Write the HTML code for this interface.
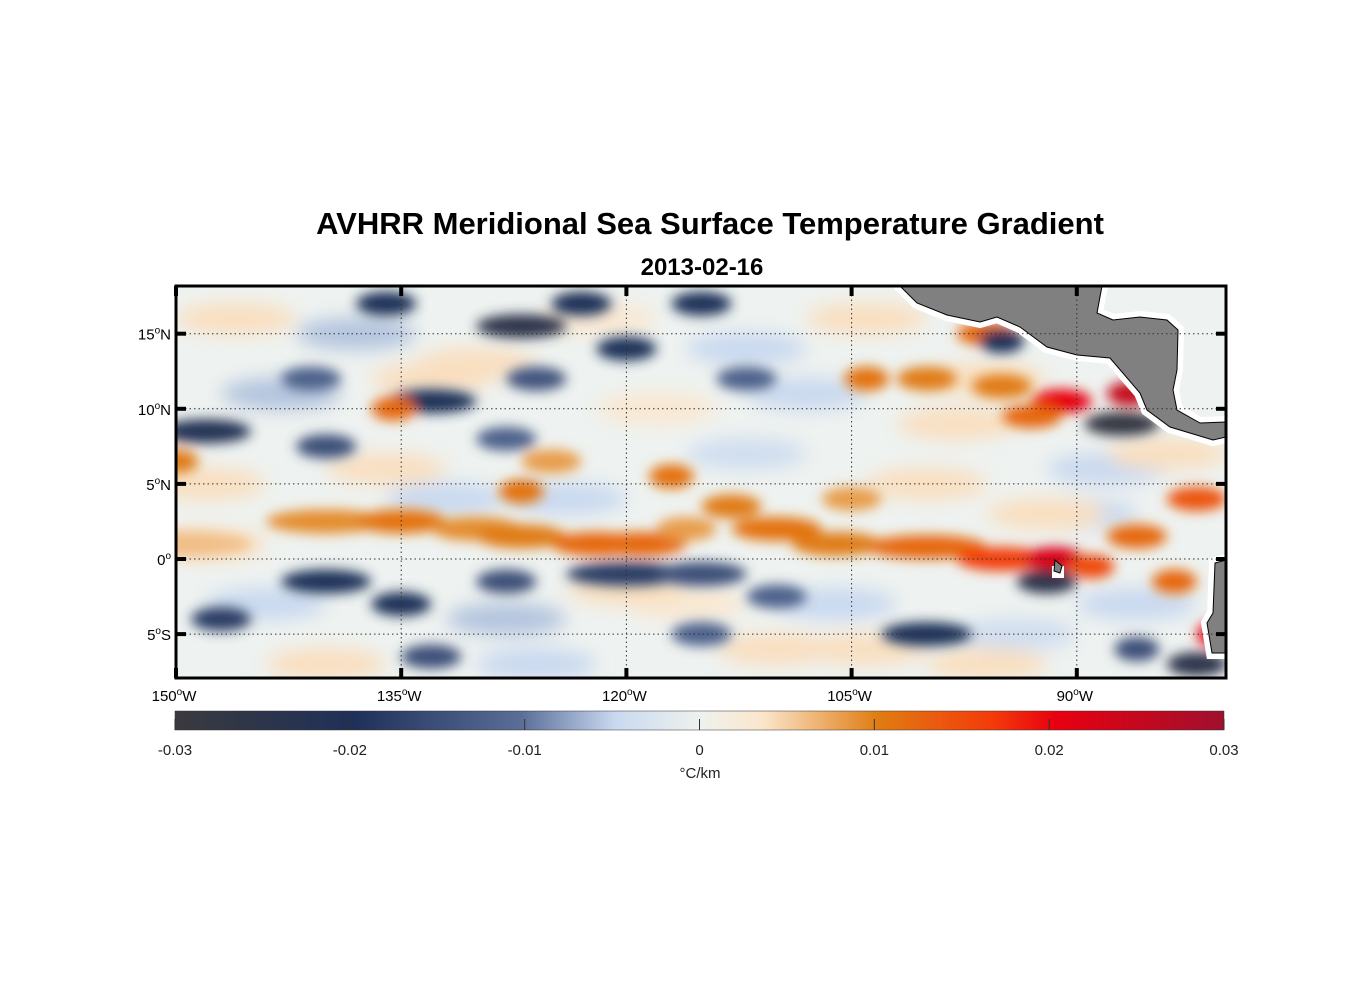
<!DOCTYPE html>
<html><head><meta charset="utf-8"><style>
body{margin:0;background:#fff;}
svg{display:block;font-family:"Liberation Sans",Arial,sans-serif;}
</style></head><body>
<svg id="c" width="1356" height="1000">
<defs>
<filter id="blur" x="-50%" y="-50%" width="200%" height="200%"><feGaussianBlur stdDeviation="6"/></filter>
<filter id="blur2" x="-50%" y="-50%" width="200%" height="200%"><feGaussianBlur stdDeviation="9"/></filter>
<clipPath id="clip"><rect x="176" y="286" width="1050" height="392"/></clipPath>
<linearGradient id="cbar" x1="0" x2="1" y1="0" y2="0">
<stop offset="0" stop-color="#3a3a3e"/><stop offset="0.17" stop-color="#1f3058"/>
<stop offset="0.33" stop-color="#5a6e98"/><stop offset="0.42" stop-color="#c9d9f0"/>
<stop offset="0.5" stop-color="#eef2ee"/><stop offset="0.56" stop-color="#fbe6cc"/>
<stop offset="0.67" stop-color="#e07c12"/><stop offset="0.78" stop-color="#f43a0a"/>
<stop offset="0.84" stop-color="#e80010"/><stop offset="1" stop-color="#a0102e"/>
</linearGradient>
</defs>
<text x="710" y="234" text-anchor="middle" font-size="31" font-weight="bold">AVHRR Meridional Sea Surface Temperature Gradient</text>
<text x="702" y="275" text-anchor="middle" font-size="24" font-weight="bold">2013-02-16</text>
<g clip-path="url(#clip)">
<rect x="176" y="286" width="1050" height="392" fill="#eef2f0"/>
<g id="light" filter="url(#blur2)"></g>
<g id="blobs" filter="url(#blur)"></g>
<g fill="#fff" stroke="#fff" stroke-width="12">
<polygon points="900,286 917,303 947,315 980,322 997,317 1020,327 1047,347 1077,355 1110,358 1140,393 1147,410 1170,427 1213,440 1226,437 1226,422 1200,423 1177,410 1173,390 1177,370 1178,330 1167,320 1140,317 1113,320 1097,313 1102,286"/>
<polygon points="1226,560 1215,563 1213,613 1207,623 1212,653 1226,653"/>
</g>
<polygon fill="#808080" stroke="#000" stroke-width="1" points="900,286 917,303 947,315 980,322 997,317 1020,327 1047,347 1077,355 1110,358 1140,393 1147,410 1170,427 1213,440 1226,437 1226,422 1200,423 1177,410 1173,390 1177,370 1178,330 1167,320 1140,317 1113,320 1097,313 1102,286"/>
<polygon fill="#808080" stroke="#000" stroke-width="1" points="1226,560 1215,563 1213,613 1207,623 1212,653 1226,653"/>
<rect x="1052" y="566" width="12" height="12" fill="#fff"/>
<polygon fill="#808080" stroke="#000" stroke-width="1" points="1055,560 1062,566 1060,573 1054,571"/>
<g id="grid"></g>
</g>
<rect x="176" y="286" width="1050" height="392" fill="none" stroke="#000" stroke-width="3"/>
<g id="axes"></g>
<rect x="175" y="711" width="1049" height="19" fill="url(#cbar)" stroke="#333" stroke-width="0.5"/>
<g id="cb"></g>
<text x="700" y="778" text-anchor="middle" font-size="15" fill="#222">°C/km</text>
</svg>
<script>
const lonTicks=[-150,-135,-120,-105,-90];
const latTicks=[15,10,5,0,-5];
const cbTicks=[-0.03,-0.02,-0.01,0,0.01,0.02,0.03];
const blobLon=[-150,-140,-135,-130,-127,-122,-119,-116,-113,-110,-106,-100,-95,-91.5,-89,-86,-82,-83.5,-81,-91,-86.5,-93,-95,-100,-104,-96,-89,-87,-95,-120,-127,-136,-123,-115,-133,-148,-140,-128,-112,-126,-141,-140,-135,-128,-120,-115,-110,-100,-92,-82,-147,-133,-115,-86,-135.5,-105,-117,-127,-150,-125];
const blobLat=[1,2.5,2.5,2,1.5,1,1,2,3.5,2,1,0.8,0,0,-0.5,1.5,4,-1.5,-5,10.5,11,9.5,11.5,12,12,15,15,9,14.5,14,15.5,17,17,17,10.5,8.5,7.5,8,12,12,12,-1.5,-3,-1.5,-1,-1,-2.5,-5,-1.5,-7,-4,-6.5,-5,-6,10,4,5.5,4.5,6.5,6.5];
const blobVal=[0.006,0.009,0.011,0.009,0.01,0.012,0.012,0.008,0.01,0.011,0.01,0.012,0.016,0.022,0.015,0.012,0.014,0.012,0.02,0.02,0.025,0.012,0.01,0.01,0.011,0.012,0.01,-0.028,-0.02,-0.02,-0.025,-0.02,-0.02,-0.02,-0.02,-0.022,-0.015,-0.012,-0.012,-0.014,-0.012,-0.02,-0.02,-0.015,-0.018,-0.015,-0.012,-0.02,-0.025,-0.025,-0.018,-0.015,-0.012,-0.015,0.012,0.008,0.011,0.011,0.01,0.008];
const blobLen=[5,4,3,3,3,3,3,2,2,3,3,4,3,2,1.5,2,2,1.5,1,2,1.5,2,2,2,1.5,2,2,2.5,1.5,2,3,2,2,2,3,3,2,2,2,2,2,3,2,2,4,3,2,3,2,2,2,2,2,1.5,1.5,2,1.5,1.5,1.5,2];
const lightLon=[-146,-138,-130,-122,-112,-104,-96,-143,-133,-118,-108,-98,-88,-148,-136,-124,-112,-100,-90,-84,-144,-128,-116,-104,-94,-140,-126,-110,-96,-86,-148,-132,-120,-106,-92];
const lightLat=[16,15,13,16,14,16,12,11,12,10,11,9,6,5,6,4,7,5,3,7,-3,-4,-3,-6,-5,-7,-7,-6,-7,-3,1,4,-2,-3,3];
const lightVal=[0.004,-0.006,0.004,0.003,-0.005,0.004,0.004,-0.006,0.004,0.003,-0.005,0.004,-0.005,0.004,0.004,-0.005,-0.004,0.004,-0.005,0.004,-0.005,-0.006,0.003,0.004,-0.004,0.004,-0.005,0.004,0.004,-0.005,0.004,-0.005,0.004,-0.005,0.004];
const X=lon=>176+(lon+150)*225.2/15;
const Y=lat=>559-lat*15.02;
const CB=v=>175+(v+0.03)/0.06*1049;
const stops=[[-0.03,[58,58,62]],[-0.02,[31,48,88]],[-0.01,[90,110,152]],[-0.005,[201,217,240]],[0,[238,242,238]],[0.0036,[251,230,204]],[0.01,[224,124,18]],[0.0167,[244,58,10]],[0.02,[232,0,16]],[0.03,[160,16,46]]];
function col(v){for(let i=0;i<stops.length-1;i++){const a=stops[i],b=stops[i+1];if(v<=b[0]){const t=Math.max(0,(v-a[0])/(b[0]-a[0]));return 'rgb('+a[1].map((c,k)=>Math.round(c+(b[1][k]-c)*t)).join(',')+')';}}return 'rgb(160,16,46)';}
const NS='http://www.w3.org/2000/svg';
function mk(t,a,p){const e=document.createElementNS(NS,t);for(const k in a)e.setAttribute(k,a[k]);p.appendChild(e);return e;}
const lg=document.getElementById('light');
lightLon.forEach((lon,i)=>{
 const e=mk('ellipse',{cx:X(lon),cy:Y(lightLat[i]),rx:60,ry:16,fill:col(lightVal[i])},lg);
 
 
});
const bg=document.getElementById('blobs');
blobLon.forEach((lon,i)=>{
 const e=mk('ellipse',{cx:X(lon),cy:Y(blobLat[i]),rx:blobLen[i]*15,ry:12,fill:col(blobVal[i])},bg);
 
 
});
const gr=document.getElementById('grid');
latTicks.forEach(l=>{const e=mk('line',{x1:176,x2:1226,y1:Y(l),y2:Y(l),stroke:'#333','stroke-width':1,'stroke-dasharray':'1.5,3'},gr);
 
 });
lonTicks.slice(1).forEach(l=>{const e=mk('line',{x1:X(l),x2:X(l),y1:286,y2:678,stroke:'#333','stroke-width':1,'stroke-dasharray':'1.5,3'},gr);
 
 });
const ax=document.getElementById('axes');
lonTicks.forEach(l=>{
 mk('line',{x1:X(l),x2:X(l),y1:286,y2:296,stroke:'#000','stroke-width':4},ax);
 mk('line',{x1:X(l),x2:X(l),y1:668,y2:678,stroke:'#000','stroke-width':4},ax);
 const t=mk('text',{x:X(l)-2,y:701,'text-anchor':'middle','font-size':15},ax);
 t.innerHTML=(-l)+'<tspan dy="-6" font-size="10">o</tspan><tspan dy="6">W</tspan>';
 
 
});
latTicks.forEach(l=>{
 mk('line',{x1:176,x2:186,y1:Y(l),y2:Y(l),stroke:'#000','stroke-width':4},ax);
 mk('line',{x1:1216,x2:1226,y1:Y(l),y2:Y(l),stroke:'#000','stroke-width':4},ax);
 const t=mk('text',{x:171,y:Y(l)+6,'text-anchor':'end','font-size':15},ax);
 t.innerHTML=Math.abs(l)+'<tspan dy="-6" font-size="10">o</tspan><tspan dy="6">'+(l>0?'N':l<0?'S':'')+'</tspan>';
 
 
});
const cb=document.getElementById('cb');
cbTicks.forEach(v=>{
 mk('line',{x1:CB(v),x2:CB(v),y1:719,y2:730,stroke:'#333','stroke-width':1},cb);
 const t=mk('text',{x:CB(v),y:755,'text-anchor':'middle','font-size':15,fill:'#222'},cb);
 t.textContent=v===0?'0':String(v);
 
 
});
</script>
</body></html>
